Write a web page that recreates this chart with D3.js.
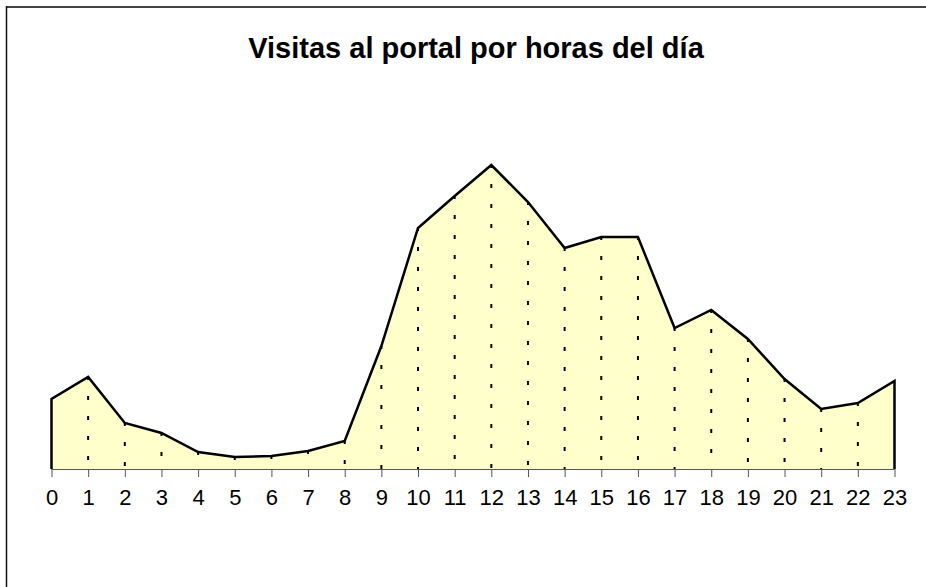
<!DOCTYPE html>
<html>
<head>
<meta charset="utf-8">
<script src="https://cdn.jsdelivr.net/npm/d3@7"></script>
<style>
  body { margin: 0; background: #fff; }
  svg { display: block; font-family: "Liberation Sans", Arial, sans-serif; }
</style>
</head>
<body>
<div id="chart"></div>
<script>
const TITLE = "Visitas al portal por horas del día";
const hours = ["0","1","2","3","4","5","6","7","8","9","10","11","12","13","14","15","16","17","18","19","20","21","22","23"];
const visits = [70, 92, 46, 36, 17, 12, 13, 18, 28, 123, 241, 273, 304, 267, 221, 232, 232, 141, 159, 130, 90, 60, 66, 88];

const FILL_COLOR = "#FFFFCC";
let width = 926, height = 587;
let svg = d3.select("#chart").append("svg").attr("width", width).attr("height", height);

// frame (only top and left edges visible, the rest is cut off)
svg.append("line").attr("x1", 6).attr("y1", 7).attr("x2", width).attr("y2", 7)
  .attr("stroke", "#444").attr("stroke-width", 2);
svg.append("line").attr("x1", 6.5).attr("y1", 6).attr("x2", 6.5).attr("y2", height)
  .attr("stroke", "#111").attr("stroke-width", 1.5);

svg.append("text").attr("x", 476).attr("y", 58).attr("text-anchor", "middle")
  .attr("font-size", "29px").attr("font-weight", "bold").text(TITLE);

let x = d3.scalePoint().domain(hours).range([51.5, 894.5]);
let y = d3.scaleLinear().domain([0, 350]).range([469, 119]);

// area
let area = d3.area().x((d, i) => x(hours[i])).y0(y(0)).y1(d => y(d));
svg.append("path").datum(visits).attr("d", area).attr("fill", FILL_COLOR);

// drop lines
svg.append("g").selectAll("line").data(visits.slice(1, -1)).join("line")
  .attr("x1", (d, i) => x(hours[i + 1])).attr("x2", (d, i) => x(hours[i + 1]))
  .attr("y1", d => y(d)).attr("y2", y(0))
  .attr("stroke", "#000").attr("stroke-width", 2)
  .attr("stroke-dasharray", "4,16").attr("stroke-dashoffset", 1);

// x axis
let axis = svg.append("g").attr("transform", "translate(0," + y(0) + ")")
  .call(d3.axisBottom(x).tickSize(8).tickPadding(12));
axis.select(".domain").attr("stroke", "#555").attr("d", "M" + x("0") + ",0.5H" + x("23"));
axis.selectAll(".tick line").attr("stroke", "#555");
axis.selectAll(".tick text").attr("font-size", "22px").attr("fill", "#000")
  .attr("font-family", "'Liberation Sans', Arial, sans-serif");

// outline
let pts = [[x("0"), y(0)]].concat(visits.map((d, i) => [x(hours[i]), y(d)]), [[x("23"), y(0)]]);
svg.append("path").attr("d", d3.line()(pts)).attr("fill", "none")
  .attr("stroke", "#000").attr("stroke-width", 2.5).attr("stroke-linejoin", "miter");
</script>
</body>
</html>
